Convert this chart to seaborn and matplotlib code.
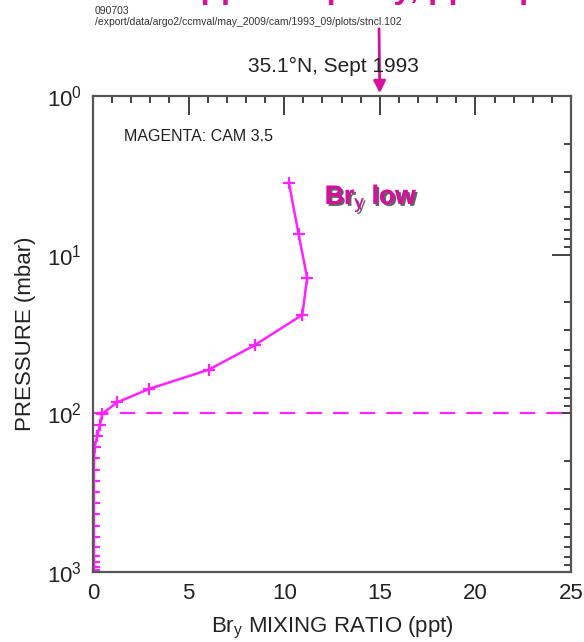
import matplotlib
matplotlib.use("Agg")
import matplotlib.pyplot as plt
import matplotlib.patheffects as pe
from matplotlib.ticker import MultipleLocator, LogLocator, NullFormatter
import seaborn as sns
import pandas as pd

# === Data (CAM 3.5 levels, Bry profile) ===
pressure = [3.54, 7.39, 13.97, 23.94, 37.23, 53.11, 70.06, 85.44, 100.51,
            118.25, 139.12, 163.66, 192.54, 226.51, 266.48, 313.50, 368.82,
            433.90, 510.46, 600.52, 696.80, 787.70, 867.16, 929.65, 970.55, 992.56]
bry = [10.25, 10.75, 11.2, 10.95, 8.45, 6.05, 2.95, 1.25, 0.49,
       0.36, 0.22, 0.08, 0.05, 0.04, 0.04, 0.04, 0.04,
       0.04, 0.04, 0.04, 0.04, 0.04, 0.04, 0.04, 0.04, 0.04]
tropopause = 100.0
x_limits = [0, 25]
y_limits = [1, 1000]

df = pd.DataFrame({"bry": bry, "pressure": pressure})

# === Setup ===
sns.set_style("white")
plt.rcParams["font.family"] = ["Liberation Sans", "DejaVu Sans"]
plt.rcParams["mathtext.fontset"] = "custom"
plt.rcParams["mathtext.rm"] = "Liberation Sans"
plt.rcParams["mathtext.it"] = "Liberation Sans"

magenta = "#ff22ff"
dark_magenta = "#d4109c"
spine_gray = "#555555"

fig = plt.figure(figsize=(5.84, 6.42), dpi=100)
ax = fig.add_axes([93 / 584, 1 - 572 / 642, (571 - 93) / 584, (572 - 96) / 642])

sns.lineplot(data=df, x="bry", y="pressure", sort=False, estimator=None,
             color=magenta, linewidth=1.8, marker="+", markersize=9,
             markeredgecolor=magenta, markeredgewidth=1.6, ax=ax)
ax.plot(x_limits, [tropopause, tropopause], color=magenta, linestyle=(0, (7, 5)),
        linewidth=1.6)

ax.set_yscale("log")
ax.set_xlim(x_limits)
ax.set_ylim(y_limits[1], y_limits[0])

ax.xaxis.set_major_locator(MultipleLocator(5))
ax.xaxis.set_minor_locator(MultipleLocator(1))
ax.yaxis.set_major_locator(LogLocator(base=10, numticks=10))
ax.yaxis.set_minor_locator(LogLocator(base=10, subs=range(2, 10), numticks=10))
ax.yaxis.set_minor_formatter(NullFormatter())

ax.tick_params(which="both", direction="in", top=True, right=True,
               color="#333333", labelsize=16, labelcolor="#222222")
ax.tick_params(which="major", length=14, width=1.3, pad=8)
ax.tick_params(which="minor", length=5, width=1.3)
for s in ax.spines.values():
    s.set_color(spine_gray)
    s.set_linewidth(1.6)

ax.set_xlabel("Br$_y$ MIXING RATIO (ppt)", fontsize=16, color="#222222", labelpad=8)
ax.set_ylabel("PRESSURE (mbar)", fontsize=16, color="#222222", labelpad=8)

ax.text(0.065, 0.915, "MAGENTA: CAM 3.5", transform=ax.transAxes, fontsize=11.5,
        color="#222222", va="center", ha="left")
ax.text(0.485, 0.785, "Br$_y$ low", transform=ax.transAxes, fontsize=19,
        fontweight="bold", color=dark_magenta, va="center", ha="left",
        path_effects=[pe.withSimplePatchShadow(offset=(1.5, -1.5),
                                               shadow_rgbFace="#222222", alpha=0.7),
                      pe.Normal()])

# === Header texts ===
fig.text(333 / 584, 1 - 66 / 642, "35.1°N, Sept 1993", fontsize=15,
         color="#222222", ha="center", va="center")
fig.text(95 / 584, 1 - 11 / 642, "090703", fontsize=7.5, color="#333333",
         ha="left", va="center")
fig.text(95 / 584, 1 - 22 / 642,
         "/export/data/argo2/ccmval/may_2009/cam/1993_09/plots/stncl.102",
         fontsize=7.5, color="#333333", ha="left", va="center")
# header line cropped at the top edge: only its descenders show
fig.text(180 / 584, 1 + 2 / 642, "upper trop Bry, ppt input", fontsize=24,
         fontweight="bold", color=dark_magenta, ha="left", va="baseline")

ax.annotate("", xy=(15, 1.0), xycoords="data",
            xytext=(379 / 584, 1 - 26 / 642), textcoords="figure fraction",
            arrowprops=dict(arrowstyle="-|>", color=dark_magenta, lw=2,
                            mutation_scale=18),
            annotation_clip=False)

fig.savefig("out.png", dpi=100)
plt.close()
